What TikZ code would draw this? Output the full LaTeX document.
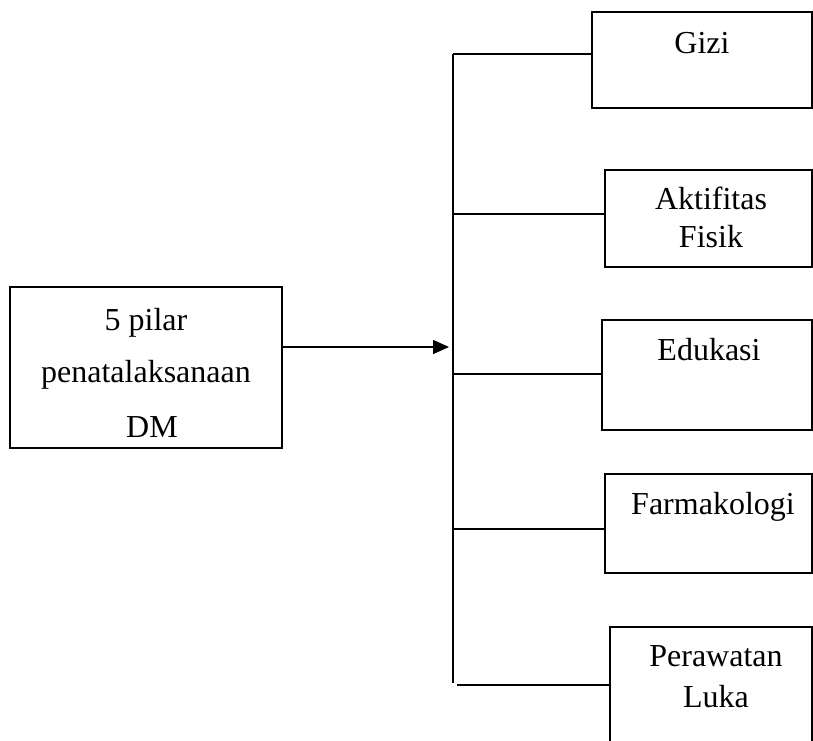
\documentclass[tikz,border=0pt]{standalone}
\usepackage{fontspec}
\setmainfont{Liberation Serif}
\usetikzlibrary{arrows.meta}
\begin{document}
\begin{tikzpicture}[x=1pt,y=-1pt,
  box/.style={draw, line width=1.6pt, inner sep=0pt, outer sep=0pt, anchor=north west},
  lbl/.style={anchor=base, inner sep=0pt, font=\fontsize{32}{38}\selectfont},
  conn/.style={line width=1.5pt}]
\useasboundingbox (0,0) rectangle (813,740);
% boxes
\node[box, minimum width=272pt, minimum height=161pt] (pilar) at (10,287) {};
\node[box, minimum width=220pt, minimum height=96pt] (gizi) at (592,12) {};
\node[box, minimum width=207pt, minimum height=97pt] (aktif) at (605,170) {};
\node[box, minimum width=210pt, minimum height=110pt] (edu) at (602,320) {};
\node[box, minimum width=207pt, minimum height=99pt] (farm) at (605,474) {};
\node[box, minimum width=202pt, minimum height=130pt] (rawat) at (610,627) {};
% texts
\node[lbl] (t1) at (146,330) {5 pilar};
\node[lbl] (t2) at (146,382) {penatalaksanaan};
\node[lbl] (t3) at (152,437) {DM};
\node[lbl] (tg) at (702,53) {Gizi};
\node[lbl] (ta1) at (711,209) {Aktifitas};
\node[lbl] (ta2) at (711,247) {Fisik};
\node[lbl] (te) at (709,360) {Edukasi};
\node[lbl] (tf) at (713,514) {Farmakologi};
\node[lbl] (tp1) at (716,666) {Perawatan};
\node[lbl] (tp2) at (716,707) {Luka};
% trunk
\coordinate (j1) at (453,54);
\coordinate (j2) at (453,214);
\coordinate (j3) at (453,374);
\coordinate (j4) at (453,529);
\coordinate (j5) at (453,683);
\coordinate (j5b) at (457,685);
\draw[conn] (j1) -- (j5);
\draw[conn] (j1) -- (gizi.west |- j1);
\draw[conn] (j2) -- (aktif.west |- j2);
\draw[conn] (j3) -- (edu.west |- j3);
\draw[conn] (j4) -- (farm.west |- j4);
\draw[conn] (j5b) -- (rawat.west |- j5b);
% arrow
\coordinate (atip) at (449,347);
\draw[conn, -{Triangle[length=16pt,width=14pt]}] (pilar.east |- atip) -- (atip);
\end{tikzpicture}
\end{document}
